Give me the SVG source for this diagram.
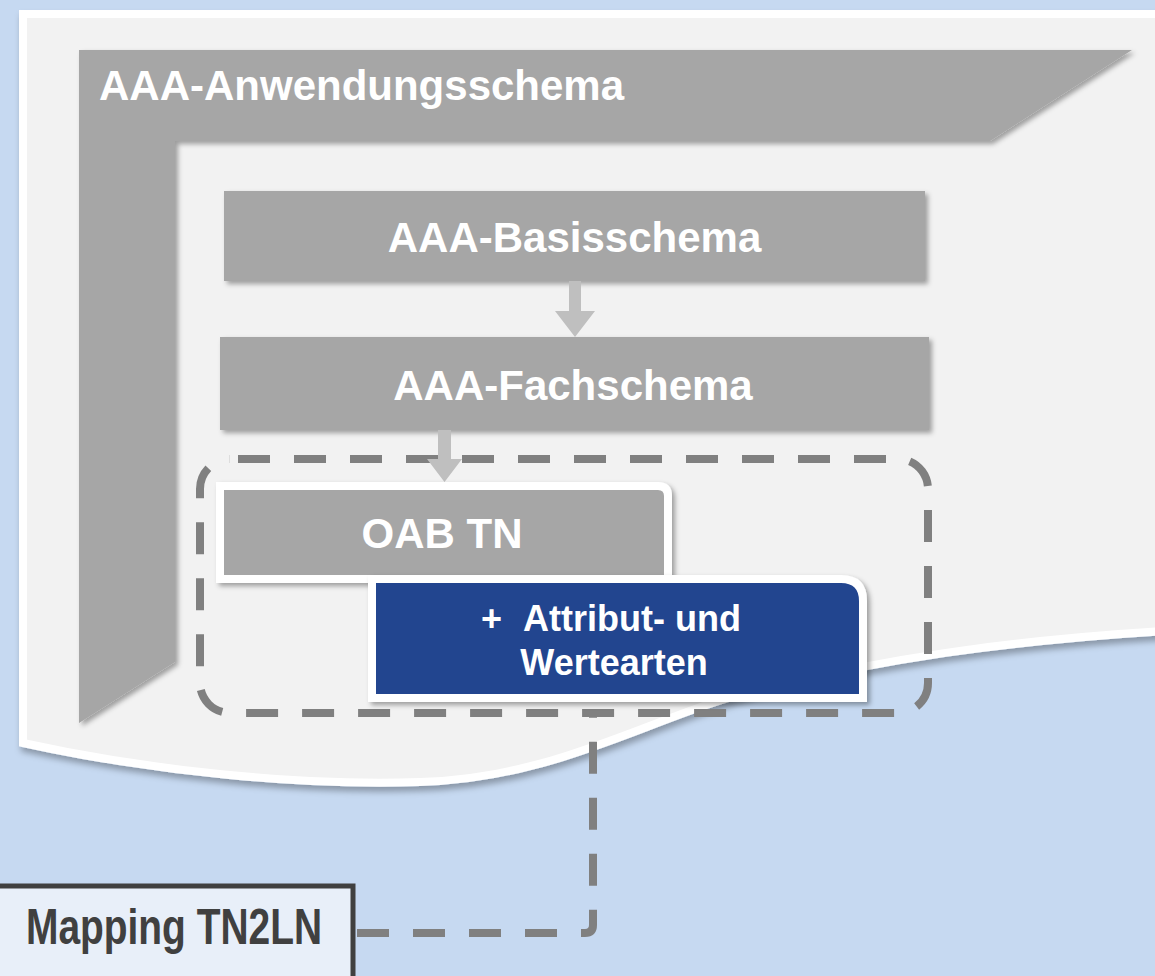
<svg xmlns="http://www.w3.org/2000/svg" width="1155" height="976" viewBox="0 0 1155 976">
  <defs>
    <filter id="sh" x="-10%" y="-10%" width="130%" height="140%">
      <feDropShadow dx="3" dy="3" stdDeviation="2.5" flood-color="#000" flood-opacity="0.35"/>
    </filter>
    <filter id="shPage" x="-5%" y="-5%" width="115%" height="115%">
      <feDropShadow dx="2" dy="5" stdDeviation="3" flood-color="#000" flood-opacity="0.3"/>
    </filter>
    <style>
      .t { font-family: "Liberation Sans", Arial, sans-serif; font-weight: bold; fill: #FFFFFF; }
      .gray { fill: #A6A6A6; }
      .arrow { fill: #BFBFBF; }
      .dash { fill: none; stroke: #808080; stroke-width: 8; stroke-dasharray: 32 24; }
      .frame { stroke: #FFFFFF; stroke-width: 8; }
    </style>
  </defs>

  <rect id="background" x="0" y="0" width="1155" height="976" fill="#C6D9F1"/>

  <g id="page">
    <path d="M23,14 H1165 V631 C1000,641 880,660 760,689 C650,716 560,778 420,782 C300,786 150,771 23,743 Z" fill="#F2F2F2" stroke="#FFFFFF" stroke-width="8" filter="url(#shPage)"/>
  </g>

  <g id="node-anwendungsschema">
    <polygon class="gray" points="79,50 1132,50 990,141 175,141 175,662 79,723" filter="url(#sh)"/>
    <text class="t" x="99" y="100" font-size="42">AAA-Anwendungsschema</text>
  </g>

  <g id="node-basisschema">
    <rect class="gray" x="224" y="191" width="701" height="90" filter="url(#sh)"/>
    <text class="t" x="574.5" y="252" font-size="42" text-anchor="middle">AAA-Basisschema</text>
  </g>

  <g id="node-fachschema">
    <rect class="gray" x="220" y="337" width="709" height="93" filter="url(#sh)"/>
    <text class="t" x="573" y="400" font-size="42" text-anchor="middle">AAA-Fachschema</text>
  </g>

  <g id="node-container-tn">
    <path class="dash" stroke-dashoffset="48" d="M230,459 H898 A30,30 0 0 1 928,489 V683 A30,30 0 0 1 898,713 H230 A30,30 0 0 1 200,683 V489 A30,30 0 0 1 230,459 Z"/>
  </g>

  <g id="connectors">
    <polygon class="arrow" points="569,281 581,281 581,311 595,311 575,337 555,311 569,311"/>
    <polygon class="arrow" points="438,430 451,430 451,459 462,459 444.5,482 427,459 438,459"/>
    <path class="dash" d="M357,933 H585 Q593,933 593,925 V717"/>
  </g>

  <g id="node-oab-tn">
    <path class="gray frame" d="M220,486 H658 Q668,486 668,496 V579 H220 Z" filter="url(#sh)"/>
    <text class="t" x="442" y="548" font-size="42" text-anchor="middle">OAB TN</text>
  </g>

  <g id="node-attribut">
    <path class="frame" fill="#22448F" d="M372,579 H841 Q863,579 863,601 V698 H372 Z" filter="url(#sh)"/>
    <text class="t" x="481" y="631" font-size="36">+</text>
    <text class="t" x="523" y="631" font-size="36">Attribut- und</text>
    <text class="t" x="614" y="675" font-size="36" text-anchor="middle">Wertearten</text>
  </g>

  <g id="node-mapping">
    <rect x="-10" y="886" width="363" height="100" fill="#E8EFF9" stroke="#404040" stroke-width="5"/>
    <text x="26" y="944" font-family="'Liberation Sans', Arial, sans-serif" font-weight="bold" font-size="50" fill="#404040" textLength="296" lengthAdjust="spacingAndGlyphs">Mapping TN2LN</text>
  </g>
</svg>
